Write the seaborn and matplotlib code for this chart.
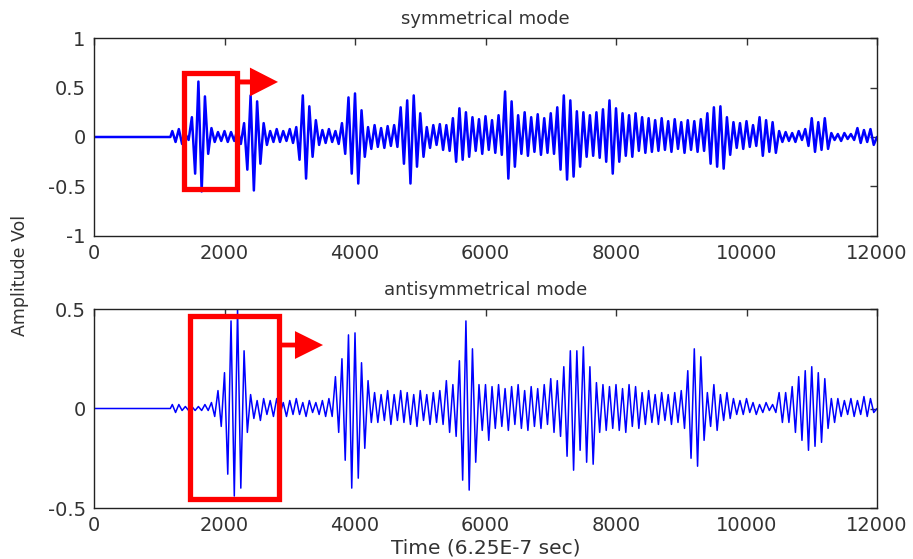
import numpy as np
import pandas as pd
import matplotlib
matplotlib.use("Agg")
import matplotlib.pyplot as plt
import matplotlib.patches as patches
import seaborn as sns

# Peak values: one (upper, lower) pair per 100 time units, from t = 1200
sym_upper = [
    0.06, 0.08, 0.03, 0.20, 0.56, 0.41, 0.09, 0.05, 0.06, 0.05,
    0.08, 0.14, 0.42, 0.36, 0.14, 0.06, 0.08, 0.06, 0.08, 0.10,
    0.42, 0.31, 0.17, 0.07, 0.08, 0.06, 0.14, 0.40, 0.44, 0.27,
    0.10, 0.12, 0.09, 0.11, 0.12, 0.30, 0.37, 0.42, 0.24, 0.10,
    0.12, 0.13, 0.12, 0.19, 0.29, 0.25, 0.20, 0.18, 0.21, 0.17,
    0.22, 0.46, 0.36, 0.22, 0.25, 0.20, 0.23, 0.19, 0.24, 0.30,
    0.42, 0.37, 0.26, 0.25, 0.22, 0.25, 0.28, 0.37, 0.29, 0.24,
    0.22, 0.24, 0.20, 0.19, 0.17, 0.19, 0.16, 0.18, 0.15, 0.17,
    0.16, 0.18, 0.24, 0.30, 0.31, 0.20, 0.15, 0.14, 0.16, 0.12,
    0.20, 0.17, 0.15, 0.06, 0.05, 0.04, 0.06, 0.08, 0.19, 0.15,
    0.19, 0.04, 0.03, 0.04, 0.03, 0.09, 0.07, 0.08,
]
sym_lower = [
    -0.05, -0.07, -0.03, -0.37, -0.55, -0.17, -0.05, -0.04, -0.05, -0.04,
    -0.07, -0.33, -0.54, -0.27, -0.08, -0.05, -0.05, -0.04, -0.06, -0.23,
    -0.42, -0.20, -0.08, -0.06, -0.05, -0.07, -0.17, -0.37, -0.47, -0.20,
    -0.12, -0.10, -0.11, -0.09, -0.10, -0.27, -0.47, -0.30, -0.20, -0.11,
    -0.08, -0.13, -0.14, -0.25, -0.23, -0.20, -0.14, -0.17, -0.13, -0.16,
    -0.18, -0.42, -0.30, -0.17, -0.19, -0.15, -0.18, -0.16, -0.17, -0.33,
    -0.43, -0.40, -0.30, -0.20, -0.19, -0.21, -0.25, -0.37, -0.25, -0.19,
    -0.20, -0.14, -0.16, -0.15, -0.14, -0.13, -0.15, -0.12, -0.16, -0.13,
    -0.15, -0.14, -0.27, -0.30, -0.32, -0.18, -0.11, -0.12, -0.10, -0.09,
    -0.19, -0.15, -0.16, -0.05, -0.04, -0.05, -0.03, -0.09, -0.15, -0.13,
    -0.12, -0.03, -0.04, -0.02, -0.03, -0.06, -0.05, -0.08,
]
anti_upper = [
    0.02, 0.02, 0.01, 0.01, 0.01, 0.02, 0.03, 0.09, 0.18, 0.44,
    0.50, 0.29, 0.07, 0.04, 0.05, 0.04, 0.05, 0.03, 0.04, 0.05,
    0.03, 0.04, 0.03, 0.04, 0.05, 0.16, 0.25, 0.37, 0.38, 0.23,
    0.14, 0.08, 0.07, 0.09, 0.07, 0.09, 0.08, 0.07, 0.09, 0.07,
    0.08, 0.09, 0.14, 0.12, 0.24, 0.44, 0.30, 0.12, 0.12, 0.11,
    0.12, 0.10, 0.11, 0.12, 0.09, 0.11, 0.10, 0.12, 0.15, 0.14,
    0.21, 0.29, 0.29, 0.31, 0.21, 0.13, 0.12, 0.11, 0.12, 0.10,
    0.12, 0.11, 0.08, 0.09, 0.07, 0.08, 0.07, 0.08, 0.09, 0.19,
    0.30, 0.26, 0.08, 0.12, 0.07, 0.08, 0.05, 0.04, 0.05, 0.03,
    0.02, 0.03, 0.02, 0.08, 0.08, 0.11, 0.16, 0.19, 0.21, 0.18,
    0.15, 0.05, 0.05, 0.04, 0.05, 0.04, 0.06, 0.05,
]
anti_lower = [
    -0.02, -0.01, -0.01, -0.01, -0.01, -0.01, -0.04, -0.09, -0.33, -0.44,
    -0.40, -0.12, -0.05, -0.06, -0.03, -0.04, -0.03, -0.04, -0.03, -0.03,
    -0.04, -0.02, -0.03, -0.04, -0.04, -0.12, -0.26, -0.40, -0.35, -0.20,
    -0.07, -0.07, -0.06, -0.08, -0.06, -0.07, -0.08, -0.09, -0.06, -0.08,
    -0.07, -0.08, -0.12, -0.14, -0.36, -0.41, -0.27, -0.11, -0.16, -0.10,
    -0.09, -0.11, -0.08, -0.10, -0.11, -0.09, -0.10, -0.08, -0.12, -0.14,
    -0.24, -0.31, -0.21, -0.27, -0.28, -0.12, -0.11, -0.10, -0.11, -0.12,
    -0.09, -0.10, -0.08, -0.07, -0.08, -0.06, -0.08, -0.07, -0.10, -0.25,
    -0.29, -0.16, -0.09, -0.11, -0.06, -0.05, -0.03, -0.03, -0.02, -0.03,
    -0.02, -0.01, -0.02, -0.07, -0.07, -0.12, -0.16, -0.21, -0.19, -0.17,
    -0.10, -0.07, -0.04, -0.03, -0.04, -0.03, -0.04, -0.02,
]

onset = 1170       # signal is flat before this
start = 1200       # first peak pair
step = 100         # time units per peak pair
t_end = 12000

x_ticks = [0, 2000, 4000, 6000, 8000, 10000, 12000]
sym_yticks = [-1, -0.5, 0, 0.5, 1]
sym_ylabels = ["-1", "-0.5", "0", "0.5", "1"]
anti_yticks = [-0.5, 0, 0.5]
anti_ylabels = ["-0.5", "0", "0.5"]

# highlight boxes (x0, x1, y0, y1) and arrows (x_start, x_tip, y)
sym_box = (1372, 2184, -0.525, 0.646)
sym_arrow = (2184, 2820, 0.556)
anti_box = (1464, 2828, -0.457, 0.467)
anti_arrow = (2828, 3510, 0.319)


def trace(upper, lower):
    t = [0, onset]
    v = [0.0, 0.0]
    for i, (u, l) in enumerate(zip(upper, lower)):
        t += [start + step * i, start + step * i + step / 2]
        v += [u, l]
    t.append(t_end)
    v.append(0.0)
    return pd.DataFrame({"t": t, "amp": v})


sym_df = trace(sym_upper, sym_lower)
anti_df = trace(anti_upper, anti_lower)

sns.set_theme(style="white")
plt.rcParams["font.family"] = ["DejaVu Sans"]

fig = plt.figure(figsize=(9.13, 5.59), dpi=100)
ax1 = fig.add_axes([0.10296, 0.57782, 0.85761, 0.35420])
ax2 = fig.add_axes([0.10296, 0.09123, 0.85761, 0.35599])

sns.lineplot(data=sym_df, x="t", y="amp", ax=ax1, color="#0000ff", linewidth=1.8, sort=False)
sns.lineplot(data=anti_df, x="t", y="amp", ax=ax2, color="#0000ff", linewidth=1.1, sort=False)


def style(ax, yticks, ylabels, ylim, title):
    ax.set_xlim(0, t_end)
    ax.set_ylim(*ylim)
    ax.set_xticks(x_ticks)
    ax.set_xticklabels([str(v) for v in x_ticks])
    ax.set_yticks(yticks)
    ax.set_yticklabels(ylabels)
    ax.tick_params(direction="in", top=True, right=True, length=5, width=1,
                   color="#333333", labelsize=14, labelcolor="#333333", pad=6)
    for s in ax.spines.values():
        s.set_color("#222222")
        s.set_linewidth(1.0)
    ax.set_xlabel("")
    ax.set_ylabel("")
    ax.set_title(title, fontsize=13, color="#333333", pad=10)


style(ax1, sym_yticks, sym_ylabels, (-1, 1), "symmetrical mode")
style(ax2, anti_yticks, anti_ylabels, (-0.5, 0.5), "antisymmetrical mode")


def highlight(ax, box, arrow, tail_w, head_w):
    x0, x1, y0, y1 = box
    ax.add_patch(patches.Rectangle((x0, y0), x1 - x0, y1 - y0, fill=False,
                                   edgecolor="#ff0000", linewidth=3.8,
                                   joinstyle="miter", clip_on=False, zorder=5))
    xs, xt, ya = arrow
    ax.arrow(xs, ya, xt - xs, 0, width=tail_w, head_width=head_w, head_length=430,
             length_includes_head=True, color="#ff0000", linewidth=0,
             clip_on=False, zorder=5)


highlight(ax1, sym_box, sym_arrow, 0.05, 0.29)
highlight(ax2, anti_box, anti_arrow, 0.024, 0.14)

fig.text(0.022, 0.508, "Amplitude Vol", rotation=90, ha="center", va="center",
         fontsize=12.5, color="#333333")
ax2.set_xlabel("Time (6.25E-7 sec)", fontsize=14.5, color="#333333", labelpad=2)

fig.savefig("out.png", dpi=100)
